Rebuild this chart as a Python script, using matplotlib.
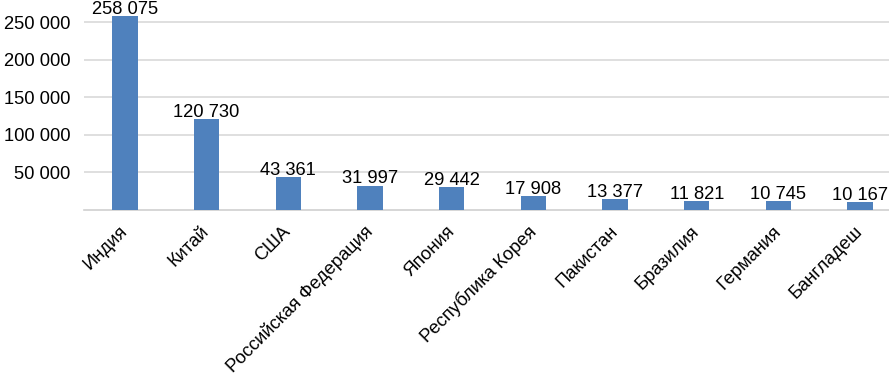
import matplotlib
matplotlib.use("Agg")
import matplotlib.pyplot as plt

countries = ['Индия', 'Китай', 'США', 'Российская Федерация', 'Япония',
             'Республика Корея', 'Пакистан', 'Бразилия', 'Германия', 'Бангладеш']
values = [258075, 120730, 43361, 31997, 29442, 17908, 13377, 11821, 10745, 10167]
yticks = [50000, 100000, 150000, 200000, 250000]


def fmt(v):
    return f"{v:,}".replace(",", " ")


plt.rcParams['font.family'] = ['Liberation Sans', 'DejaVu Sans']

fig = plt.figure(figsize=(8.89, 3.77), dpi=100)
ax = fig.add_axes([84 / 889, 1 - 209.5 / 377, 817 / 889, 209.5 / 377])

x = range(len(countries))
ax.bar(x, values, width=0.31, color='#4f81bd', zorder=3)
for xi, v in zip(x, values):
    ax.text(xi, v - 2500, fmt(v), ha='center', va='bottom', fontsize=13.2, zorder=4)

ax.set_xlim(-0.5, len(countries) - 0.5)
ax.set_ylim(0, 280000)
ax.set_yticks(yticks)
ax.set_yticklabels([fmt(t) for t in yticks], fontsize=13.2)
ax.set_xticks(list(x))
ax.set_xticklabels(countries, rotation=45, ha='right', va='center',
                   rotation_mode='anchor', fontsize=13.2)
ax.tick_params(axis='both', length=0)
ax.tick_params(axis='y', pad=10)
ax.tick_params(axis='x', pad=14)

ax.grid(axis='y', color='#d9d9d9', linewidth=1.2, zorder=0)
for s in ['top', 'right', 'left']:
    ax.spines[s].set_visible(False)
ax.spines['bottom'].set_color('#d0d0d0')
ax.spines['bottom'].set_linewidth(1.2)

fig.savefig('out.png', dpi=100)
